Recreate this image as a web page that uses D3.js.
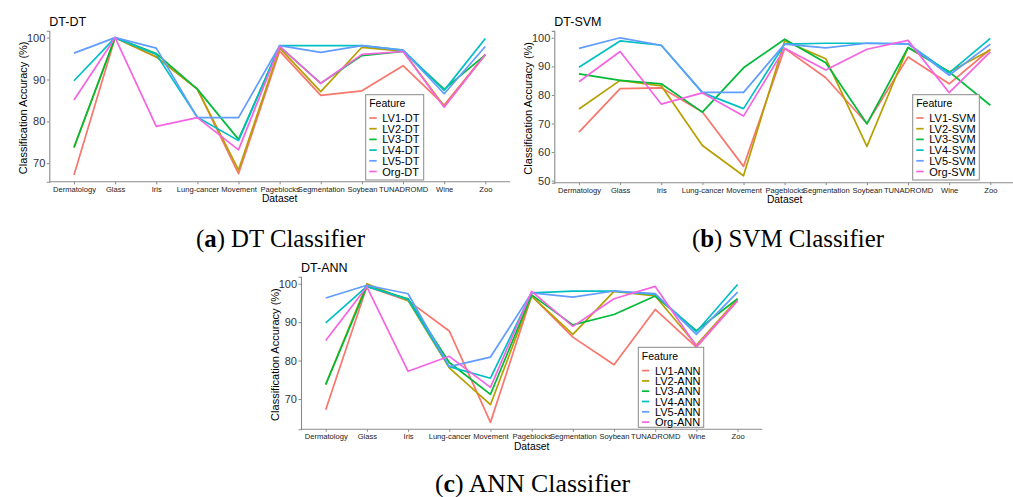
<!DOCTYPE html>
<html><head><meta charset="utf-8">
<script src="https://cdn.jsdelivr.net/npm/d3@7"></script>
<style>body{margin:0;background:#fff}svg{display:block}</style>
</head><body>
<svg id="c" width="1013" height="497"></svg>
<script>
const categories = ["Dermatology","Glass","Iris","Lung-cancer","Movement","Pageblocks","Segmentation","Soybean","TUNADROMD","Wine","Zoo"];
const colors = ["#F8766D","#B79F00","#00BA38","#00BFC4","#619CFF","#F564E3"];

// DT classifier
const dtNames = ["LV1-DT","LV2-DT","LV3-DT","LV4-DT","LV5-DT","Org-DT"];
const dtLV1 = [67.2,100,95.4,87.7,67.5,96.8,86.2,87.3,93.3,83.9,96.0];
const dtLV2 = [73.7,100,95.4,87.7,68.4,97.5,87.1,97.7,96.8,83.6,95.9];
const dtLV3 = [73.8,100,96.2,87.7,75.7,97.9,89.1,95.7,96.7,87.7,95.9];
const dtLV4 = [89.7,100,96.0,81.0,75.4,98.1,98.1,98.1,97.0,87.4,99.8];
const dtLV5 = [96.3,100,97.5,80.9,80.9,98.1,96.5,98.1,97.0,86.6,97.9];
const dtOrg = [85.1,100,78.8,80.9,73.2,97.9,89.1,96.0,96.7,83.4,96.0];
const dtTicks = [70,80,90,100];

// SVM classifier
const svmNames = ["LV1-SVM","LV2-SVM","LV3-SVM","LV4-SVM","LV5-SVM","Org-SVM"];
const svmLV1 = [67.0,82.2,82.5,74.0,55.0,96.3,86.0,70.0,93.3,83.9,96.0];
const svmLV2 = [75.1,85.1,83.2,62.3,51.7,98.9,92.7,62.0,96.6,88.0,95.7];
const svmLV3 = [87.4,85.1,83.9,74.0,89.5,99.5,91.3,69.9,96.6,88.1,76.4];
const svmLV4 = [89.7,98.9,97.4,80.8,75.2,97.8,98.1,98.1,97.9,87.7,99.8];
const svmLV5 = [96.3,100,97.4,80.9,80.9,97.8,96.5,98.1,97.9,86.9,97.8];
const svmOrg = [84.6,95.2,76.8,80.7,72.6,96.3,88.7,96.0,99.1,80.8,95.1];
const svmTicks = [50,60,70,80,90,100];

// ANN classifier
const annNames = ["LV1-ANN","LV2-ANN","LV3-ANN","LV4-ANN","LV5-ANN","Org-ANN"];
const annLV1 = [67.2,99.3,95.6,87.7,63.9,96.8,86.1,78.9,93.3,83.5,95.6];
const annLV2 = [73.7,100,95.6,78.1,68.5,96.8,86.8,98.0,96.8,84.0,96.0];
const annLV3 = [73.8,99.3,96.1,79.5,71.2,97.1,89.3,92.0,96.8,87.8,96.1];
const annLV4 = [89.8,99.3,95.9,78.4,75.4,97.6,98.1,98.1,97.2,87.5,99.8];
const annLV5 = [96.3,99.6,97.4,78.4,80.9,97.6,96.5,98.1,97.4,86.8,97.8];
const annOrg = [85.2,99.2,77.2,81.1,73.0,98.0,88.9,96.1,99.3,83.7,95.6];
const annTicks = [70,80,90,100];

const panels = [
  {title:"DT-DT", names:dtNames, series:[dtLV1,dtLV2,dtLV3,dtLV4,dtLV5,dtOrg], ticks:dtTicks,
   box:{l:49.3,r:510,t:30.8,b:181.8}, leg:{x:365.7,y:94.7,w:58,h:85.3,step:10.7},
   cap:{pre:"(",b:"a",post:") DT Classifier",x:196,w:169,y:247}},
  {title:"DT-SVM", names:svmNames, series:[svmLV1,svmLV2,svmLV3,svmLV4,svmLV5,svmOrg], ticks:svmTicks,
   box:{l:554.3,r:1015,t:30.9,b:182.7}, leg:{x:912.7,y:94.7,w:66.6,h:85.3,step:10.7},
   cap:{pre:"(",b:"b",post:") SVM Classifier",x:692,w:192,y:247}},
  {title:"DT-ANN", names:annNames, series:[annLV1,annLV2,annLV3,annLV4,annLV5,annOrg], ticks:annTicks,
   box:{l:301,r:762.3,t:276.8,b:429.3}, leg:{x:638.3,y:347.3,w:65.4,h:80,step:10.3},
   cap:{pre:"(",b:"c",post:") ANN Classifier",x:435,w:195,y:491.5}}
];

const svg = d3.select("#c");
const axisCol = "#8a8a8a";

panels.forEach(p => {
  const g = svg.append("g");
  const all = p.series.flat();
  const [mn, mx] = d3.extent(all);
  const pad = (mx - mn) * 0.05;
  const x = d3.scalePoint().domain(categories).range([p.box.l, p.box.r]).padding(0.6);
  const y = d3.scaleLinear().domain([mn - pad, mx + pad]).range([p.box.b, p.box.t]);

  // y axis
  const ya = g.append("g").attr("transform", `translate(${p.box.l},0)`)
    .call(d3.axisLeft(y).tickValues(p.ticks).tickSize(2.5).tickPadding(1.5).tickFormat(d3.format("d")));
  ya.select(".domain").attr("stroke", axisCol).attr("stroke-width", 1.1);
  ya.selectAll(".tick line").attr("stroke", axisCol);
  ya.selectAll(".tick text").attr("fill", "#333").style("font", "11px 'Liberation Sans', Arial, sans-serif");

  // x axis
  const xa = g.append("g").attr("transform", `translate(0,${p.box.b})`)
    .call(d3.axisBottom(x).tickSize(2.5).tickPadding(2).tickSizeOuter(0));
  xa.select(".domain").attr("stroke", axisCol).attr("stroke-width", 1.1)
    .attr("d", `M${p.box.l},0H${p.box.r}`);
  xa.selectAll(".tick line").attr("stroke", axisCol);
  xa.selectAll(".tick text").attr("fill", "#222").style("font", "7.6px 'Liberation Sans', Arial, sans-serif");

  // lines
  const line = d3.line().x((d, i) => x(categories[i])).y(d => y(d));
  p.series.forEach((s, k) => {
    g.append("path").datum(s).attr("d", line).attr("fill", "none")
      .attr("stroke", colors[k]).attr("stroke-width", 1.7).attr("stroke-linejoin", "round");
  });

  // title
  g.append("text").attr("x", p.box.l).attr("y", p.box.t - 5)
    .style("font", "12.5px 'Liberation Sans', Arial, sans-serif").attr("fill", "#000").text(p.title);

  // axis titles
  const cx = (p.box.l + p.box.r) / 2, cy = (p.box.t + p.box.b) / 2;
  g.append("text").attr("x", cx).attr("y", p.box.b + 20.5).attr("text-anchor", "middle")
    .style("font", "10.3px 'Liberation Sans', Arial, sans-serif").attr("fill", "#000").text("Dataset");
  g.append("text").attr("transform", `translate(${p.box.l - 22.5},${cy + 1.5}) rotate(-90)`).attr("text-anchor", "middle")
    .style("font", "11px 'Liberation Sans', Arial, sans-serif").attr("fill", "#000").text("Classification Accuracy (%)");

  // legend
  const L = p.leg;
  const lg = g.append("g");
  lg.append("rect").attr("x", L.x).attr("y", L.y).attr("width", L.w).attr("height", L.h)
    .attr("fill", "#fff").attr("stroke", "#8a8a8a").attr("stroke-width", 1);
  lg.append("text").attr("x", L.x + 3.5).attr("y", L.y + 12.3)
    .style("font", "10.5px 'Liberation Sans', Arial, sans-serif").attr("fill", "#000").text("Feature");
  p.names.forEach((n, k) => {
    const yy = L.y + 23.3 + k * L.step;
    lg.append("line").attr("x1", L.x + 3.6).attr("x2", L.x + 11).attr("y1", yy).attr("y2", yy)
      .attr("stroke", colors[k]).attr("stroke-width", 1.7);
    lg.append("text").attr("x", L.x + 16.6).attr("y", yy + 4)
      .style("font", "11px 'Liberation Sans', Arial, sans-serif").attr("fill", "#000").text(n);
  });

  // caption
  const c = p.cap;
  const t = svg.append("text").attr("x", c.x).attr("y", c.y)
    .attr("textLength", c.w).attr("lengthAdjust", "spacingAndGlyphs")
    .style("font", "25px 'Liberation Serif', 'DejaVu Serif', serif").attr("fill", "#000");
  t.append("tspan").text(c.pre);
  t.append("tspan").attr("font-weight", "bold").text(c.b);
  t.append("tspan").text(c.post);
});
</script>
</body></html>
